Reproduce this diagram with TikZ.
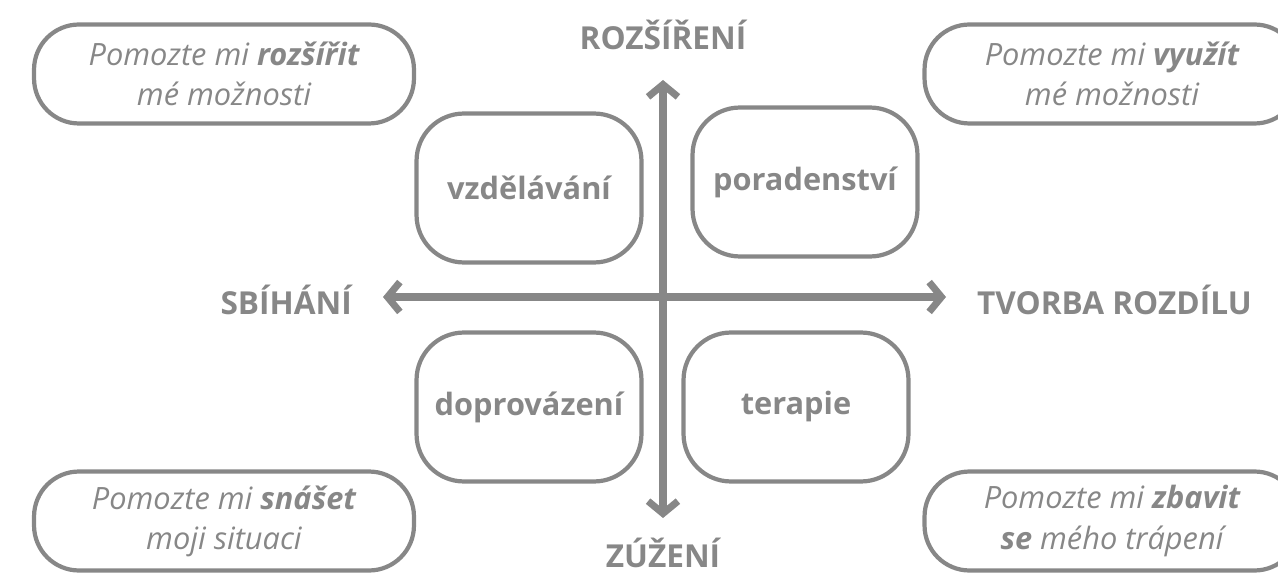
\documentclass[tikz,border=0pt]{standalone}
\usepackage{fontspec}
\setmainfont{Open Sans}
\usetikzlibrary{arrows.meta}
\definecolor{quadgray}{HTML}{878787}

\begin{document}
\begin{tikzpicture}[x=0.02cm,y=-0.02cm,
		every node/.style={text=quadgray,font=\fontsize{17.5}{22.5}\selectfont},
		wish/.style={draw=quadgray,line width=2.4pt,rounded corners=0.9cm,minimum width=7.6cm,minimum height=1.98cm,align=center,font=\fontsize{17.5}{22.8}\selectfont\itshape},
		service/.style={draw=quadgray,line width=2.4pt,rounded corners=0.95cm,minimum width=4.5cm,minimum height=2.98cm,font=\fontsize{17.5}{20}\selectfont\bfseries},
		pole/.style={inner sep=1pt,font=\fontsize{18}{20}\selectfont\bfseries},
		axis/.style={draw=quadgray,line width=4pt,{Straight Barb[length=7pt,width=17pt]}-{Straight Barb[length=7pt,width=17pt]}}]
		\useasboundingbox (0,0) rectangle (1278,574);
		\clip (0,0) rectangle (1278,574);
		\coordinate (n) at (663,80);
		\coordinate (s) at (663,518);
		\coordinate (w) at (383,297);
		\coordinate (e) at (946,297);
		\path[axis] (s) -- (n);
		\path[axis] (w) -- (e);
		\node[pole] (wide) at (663,35) {ROZŠÍŘENÍ};
		\node[pole] (narrow) at (663,553) {ZÚŽENÍ};
		\node[pole,anchor=east] (conv) at (354,300) {SBÍHÁNÍ};
		\node[pole,anchor=west] (diff) at (975,300) {TVORBA ROZDÍLU};
		\node[service] (edu) at (529,188) {vzdělávání};
		\node[service] (couns) at (805,182) {poradenství};
		\node[service] (accomp) at (529,407) {doprovázení};
		\node[service] (ther) at (796,407) {terapie};
		\node[wish] (expand) at (224,74) {Pomozte mi \textbf{rozšířit}\\mé možnosti};
		\node[wish,minimum width=7.5cm] (use) at (1112,74) {Pomozte mi \textbf{využít}\\mé možnosti};
		\node[wish] (bear) at (224,521) {Pomozte mi \textbf{snášet}\\moji situaci};
		\node[wish,minimum width=7.5cm] (relief) at (1112,521) {Pomozte mi \textbf{zbavit}\\\textbf{se} mého trápení};
\end{tikzpicture}
\end{document}
